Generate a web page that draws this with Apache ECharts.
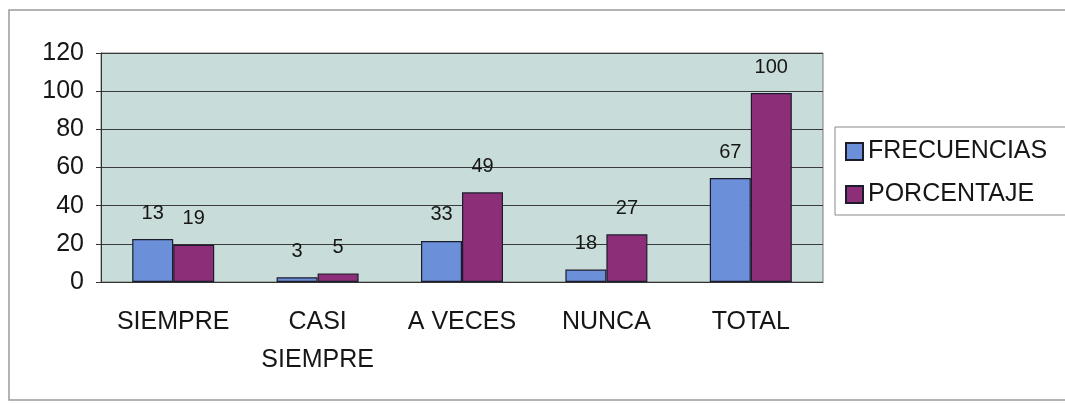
<!DOCTYPE html>
<html>
<head>
<meta charset="utf-8">
<script src="https://cdn.jsdelivr.net/npm/echarts@6/dist/echarts.min.js"></script>
<style>
  html, body { margin: 0; padding: 0; background: #fff; overflow: hidden; }
  #chart { width: 1065px; height: 403px; }
</style>
</head>
<body>
<div id="chart"></div>
<script>
// categories and values
const categories = ['SIEMPRE', 'CASI\nSIEMPRE', 'A VECES', 'NUNCA', 'TOTAL'];
// bar heights as drawn (the scan's bars do not match their printed labels)
const frecuencias = [22.5, 2.5, 21.5, 6.5, 54.5];
const porcentaje = [19.5, 4.5, 47, 25, 99];
// printed data labels
const frecuenciasLabels = ['13', '3', '33', '18', '67'];
const porcentajeLabels = ['19', '5', '49', '27', '100'];
const yTicks = { min: 0, max: 120, interval: 20 };

const font = '"Liberation Sans", Arial, sans-serif';
const textColor = '#161616';

const chart = echarts.init(document.getElementById('chart'), null, { renderer: 'canvas' });

const labelFor = (texts) => ({
  show: true,
  position: 'top',
  distance: 16,
  fontFamily: font,
  fontSize: 20,
  color: textColor,
  formatter: (p) => texts[p.dataIndex]
});

chart.setOption({
  animation: false,
  graphic: [{
    type: 'rect',
    silent: true,
    shape: { x: 9, y: 10, width: 1300, height: 390 },
    style: { fill: 'none', stroke: '#9a9a9a', lineWidth: 1.5 }
  }],
  grid: {
    left: 101, right: 242, top: 53, bottom: 121,
    show: true,
    backgroundColor: '#c8dcd9',
    borderColor: '#7a7a7a',
    borderWidth: 1
  },
  legend: {
    orient: 'vertical',
    left: 835,
    top: 127,
    padding: [12, 40, 8, 10],
    itemWidth: 17,
    itemHeight: 17,
    itemGap: 18,
    borderColor: '#8a8a8a',
    borderWidth: 1,
    icon: 'rect',
    textStyle: { fontFamily: font, fontSize: 25, color: textColor },
    data: ['FRECUENCIAS', 'PORCENTAJE']
  },
  xAxis: {
    type: 'category',
    data: categories,
    axisLine: { lineStyle: { color: '#333', width: 1 } },
    axisTick: { length: 7, lineStyle: { color: '#333' } },
    axisLabel: {
      fontFamily: font, fontSize: 25, color: textColor,
      margin: 21, lineHeight: 38, interval: 0
    }
  },
  yAxis: {
    type: 'value',
    min: yTicks.min,
    max: yTicks.max,
    interval: yTicks.interval,
    axisLine: { show: true, lineStyle: { color: '#333' } },
    axisTick: { show: true, length: 5, lineStyle: { color: '#333' } },
    axisLabel: { fontFamily: font, fontSize: 25, color: textColor, margin: 17 },
    splitLine: { lineStyle: { color: '#3a3a3a', width: 1 } }
  },
  series: [{
    name: 'FRECUENCIAS',
    type: 'bar',
    data: frecuencias,
    barWidth: 41,
    barGap: '0%',
    itemStyle: { color: '#6b8fd8', borderColor: '#1c1c2c', borderWidth: 1.2 },
    label: labelFor(frecuenciasLabels)
  }, {
    name: 'PORCENTAJE',
    type: 'bar',
    data: porcentaje,
    barWidth: 41,
    barGap: '0%',
    itemStyle: { color: '#8c2f78', borderColor: '#1c1c2c', borderWidth: 1.2 },
    label: labelFor(porcentajeLabels)
  }]
});
</script>
</body>
</html>
